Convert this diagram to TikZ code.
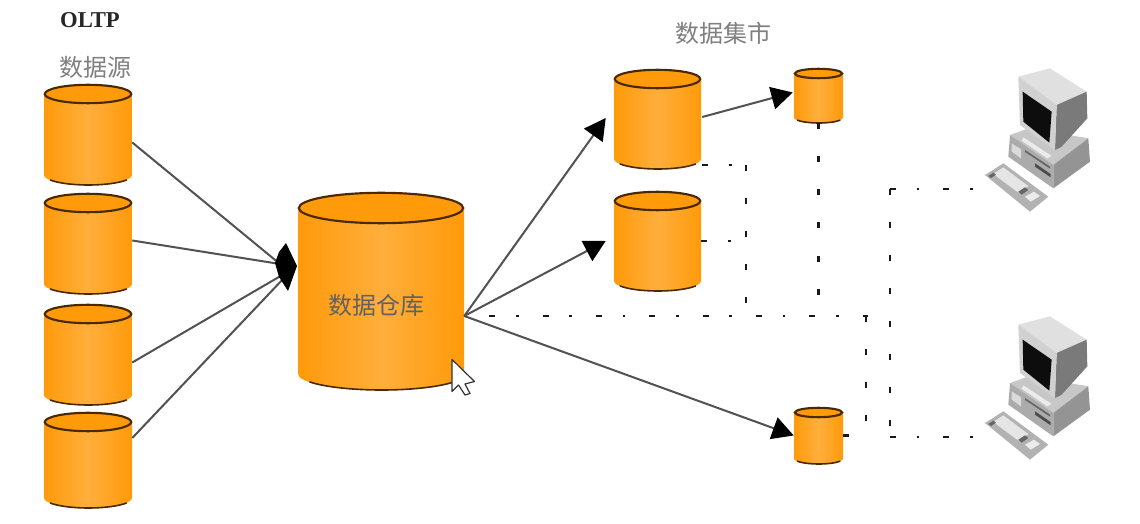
\documentclass[tikz,border=0pt]{standalone}
\usepackage{fontspec}
\setmainfont{Liberation Serif}
\newfontfamily\cjk{Noto Sans CJK SC}
\usetikzlibrary{arrows.meta,calc,fit}
\definecolor{cylfill}{HTML}{FF9A0A}
\definecolor{cylmid}{HTML}{FFAE3C}
\definecolor{cyledge}{HTML}{4A2800}
\tikzset{
  x=0.75pt, y=-0.75pt,
  flow/.style={draw=black!68, line width=1.5pt},
  flowtip/.style={flow, -{Triangle[length=16pt,width=17pt,color=black]}},
  hdots/.style={draw=black!90, line width=1.6pt, dash pattern=on 4.5pt off 15.5pt on 2pt off 18pt},
  vdots/.style={draw=black!90, line width=1.6pt, dash pattern=on 4.5pt off 20.3pt},
  caption/.style={font=\cjk\fontsize{18}{20}\selectfont, text=black!50, inner sep=0},
}
% database drum: name, left, right, top, bottom, radius of the end ellipses
\newcommand{\dbcyl}[6]{%
  \pgfmathsetmacro{\cylcx}{(#2+#3)/2}%
  \pgfmathsetmacro{\cylrx}{(#3-#2)/2}%
  \pgfmathsetmacro{\cylya}{#4+#6}%
  \pgfmathsetmacro{\cylyb}{#5-#6}%
  \shade[left color=cylfill, right color=cylfill, middle color=cylmid]
    (#2,\cylya) -- (#2,\cylyb) arc[start angle=180, end angle=0, x radius=\cylrx, y radius=#6]
    -- (#3,\cylya) -- cycle;
  \draw[cyledge, line width=1.2pt, line cap=round]
    (\cylcx,\cylyb) ++(150:\cylrx*0.99 and #6) arc[start angle=150, end angle=30, x radius=\cylrx, y radius=#6];
  \draw[cyledge, line width=1.6pt, fill=cylfill]
    (\cylcx,\cylya) ellipse[x radius=\cylrx-0.8, y radius=#6-0.8];
  \node[fit={(#2,#4) (#3,#5)}, inner sep=0pt] (#1) {};
}
% desktop computer seen from above, drawn on a 3:1 grid
\newcommand{\workstation}[3]{%
  \begin{scope}[shift={(#2,#3)}, x=0.25pt, y=-0.25pt]
    % keyboard
    \fill[black!30] (75,375) -- (130,340) -- (265,440) -- (210,485) -- cycle;
    \fill[black!10] (100,372) -- (130,352) -- (205,408) -- (175,428) -- cycle;
    \fill[black!60] (85,378) -- (100,368) -- (108,374) -- (93,384) -- cycle;
    \fill[black!60] (175,425) -- (195,412) -- (205,420) -- (185,434) -- cycle;
    \fill[black!8] (195,440) -- (222,425) -- (240,438) -- (212,455) -- cycle;
    % system unit
    \fill[black!22] (150,255) -- (205,235) -- (385,265) -- (280,345) -- cycle;
    \fill[black!33] (150,255) -- (280,345) -- (280,415) -- (145,320) -- cycle;
    \fill[black!42] (280,345) -- (385,265) -- (390,335) -- (280,415) -- cycle;
    \fill[black!14] (155,280) -- (183,298) -- (183,325) -- (155,305) -- cycle;
    \fill[black!60] (195,300) -- (270,350) -- (270,356) -- (195,306) -- cycle;
    \fill[black!70] (225,340) -- (272,372) -- (272,382) -- (225,350) -- cycle;
    \fill[black!8] (190,262) -- (275,318) -- (262,325) -- (185,272) -- cycle;
    % monitor
    \fill[black!12] (175,80) -- (270,55) -- (380,125) -- (290,165) -- cycle;
    \fill[black!52] (290,165) -- (380,125) -- (382,205) -- (305,290) -- (285,300) -- cycle;
    \fill[black!18] (175,80) -- (290,165) -- (285,300) -- (180,225) -- cycle;
    \fill[black!95] (188,125) -- (275,185) -- (268,278) -- (190,215) -- cycle;
    \node[fit={(75,55) (390,485)}, inner sep=0pt] (#1) {};
  \end{scope}
}
\begin{document}
\begin{tikzpicture}
  \useasboundingbox (0,0) rectangle (1140,524);
  \fill[white] (0,0) rectangle (1140,524);

  % source databases
  \dbcyl{srca}{44}{132}{84}{185}{10}
  \dbcyl{srcb}{44}{132}{193}{294}{10}
  \dbcyl{srcc}{44}{132}{304}{405}{10}
  \dbcyl{srcd}{44}{132}{412}{508}{10}
  % warehouse
  \dbcyl{dw}{298}{464}{192}{390}{16}
  % data marts
  \dbcyl{marta}{614}{701}{69}{169}{10}
  \dbcyl{martb}{614}{701}{191}{291}{10}
  \dbcyl{smalla}{794}{843}{68}{123}{5.5}
  \dbcyl{smallb}{794}{843}{407}{464}{5.5}

  \workstation{pca}{960}{50}
  \workstation{pcb}{960}{298}

  % captions
  \node[inner sep=0, font=\bfseries\fontsize{17}{19}\selectfont, text=black!85] (oltp) at (90,20) {OLTP};
  \node[caption] (srclabel) at (95,67) {数据源};
  \node[caption] (martlabel) at (723,33) {数据集市};
  \node[caption, text=black!62] (dwlabel) at (376,305) {数据仓库};

  % merged arrowheads entering the warehouse
  \node[inner sep=0] (hub) at (280,264) {};
  \draw[flow] ($(srca.east)+(0,8)$) -- (hub);
  \draw[flow] ($(srcb.east)+(0,-3)$) -- (hub);
  \draw[flow] ($(srcc.east)+(0,8)$) -- ($(hub)+(4,10)$);
  \draw[flow] ($(srcd.east)+(0,-22)$) -- ($(hub)+(4,14)$);
  \fill[black] (286,243) -- (297,266) -- (288,291) -- (279,277) -- (275,263) -- (279,252) -- cycle;

  % warehouse outputs
  \coordinate (dwout) at ($(dw.east)+(0,25)$);
  \draw[flowtip] (dwout) -- ($(marta.west)+(-8,-1)$);
  \draw[flowtip] (dwout) -- ($(martb.west)+(-8,0)$);
  \draw[flowtip] (dwout) -- (smallb.west);
  \draw[flowtip] ($(marta.east)+(1,-2)$) -- ($(smalla.west)+(-1,-3)$);

  % dotted network links
  \coordinate (busend) at ($(dwout)+(404,0)$);
  \coordinate (jointa) at ($(marta.east)+(45,46)$);
  \coordinate (jointb) at ($(martb.east)+(45,0)$);
  \coordinate (busa) at (jointa |- dwout);
  \coordinate (busb) at (smalla.south |- dwout);
  \coordinate (riserx) at ($(busend)+(-2,0)$);
  \coordinate (riserfoot) at (riserx |- smallb.east);
  \coordinate (pcline) at (890,0);
  \coordinate (pcatop) at (pcline |- 0,189);
  \coordinate (pcbfoot) at (pcline |- 0,437);
  \coordinate (pcaend) at ($(pca.west)+(-8,49)$);
  \coordinate (pcbend) at ($(pcb.west)+(-8,49)$);

  \draw[hdots] ($(dwout)+(25,0)$) -- (busend);
  \draw[hdots] ($(marta.east)+(1,46)$) -- (jointa);
  \draw[hdots] (martb.east) -- (jointb);
  \draw[vdots] (jointa) -- (busa);
  \draw[vdots] (smalla.south) -- (busb);
  \draw[vdots] (riserx) -- (riserfoot);
  \draw[hdots] (smallb.east) -- ($(smallb.east)+(8,0)$);
  \draw[vdots] (pcatop) -- (pcbfoot);
  \draw[hdots] (pcatop) -- (pcaend);
  \draw[hdots] (pcbfoot) -- (pcbend);

  % mouse pointer
  \draw[fill=white, draw=black!80, line width=0.9pt, line join=round]
    (452,359.5) -- (452,391.5) -- (458.5,385) -- (465,395) -- (470,393.5) -- (465,384) -- (474.5,381.5) -- cycle;
\end{tikzpicture}
\end{document}
